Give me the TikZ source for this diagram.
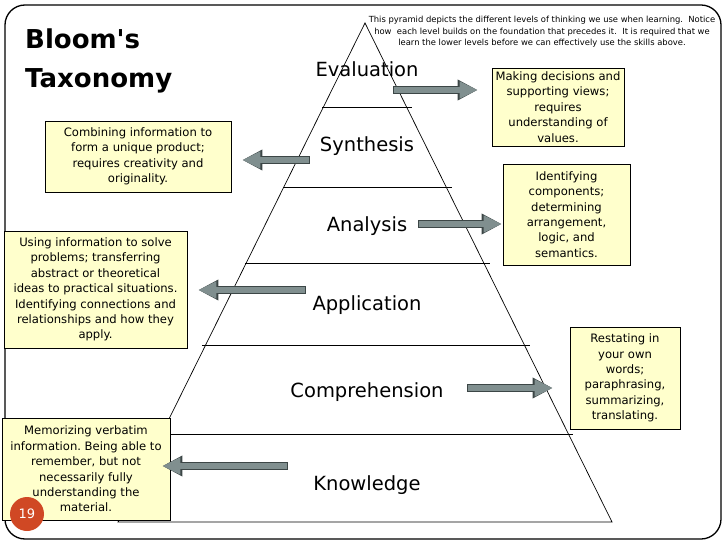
\documentclass[tikz,border=0pt]{standalone}
\usepackage{fontspec}
\setmainfont{DejaVu Sans}
\usetikzlibrary{arrows.meta}
\definecolor{bloomnote}{RGB}{255,255,204}
\definecolor{bloomarrow}{RGB}{128,143,143}
\definecolor{bloomedge}{RGB}{60,70,70}
\definecolor{bloomdot}{RGB}{208,72,36}
\frenchspacing

\begin{document}
\begin{tikzpicture}[
  x=1bp, y=-1bp,
  level/.style={font=\fontsize{19.5bp}{23bp}\selectfont, anchor=base},
  note/.style={draw=black, fill=bloomnote, align=center, line width=0.8bp,
               inner sep=1bp, font=\fontsize{11.6bp}{15.4bp}\selectfont},
  blockarr/.style={draw=bloomarrow, line width=5.5bp,
                   -{Triangle[length=18bp, width=16bp]},
                   preaction={draw=bloomedge, line width=7.3bp,
                              -{Triangle[length=20bp, width=19.5bp]},
                              shorten <=-0.8bp}},
  tierline/.style={line width=0.7bp},
]
  \useasboundingbox (0,0) rectangle (728,546);

  % Slide frame
  \draw[line width=1.3bp, rounded corners=20bp] (5,5) rectangle (721,539);

  % Heading and explanation
  \node[font=\fontsize{26bp}{39bp}\selectfont\bfseries, align=left,
        anchor=north west, inner sep=0pt] (title) at (25,29)
    {Bloom\textquotesingle s\\Taxonomy};
  \node[font=\fontsize{8.4bp}{11.5bp}\selectfont, align=center] (blurb) at (542,32)
    {This pyramid depicts the different levels of thinking we use when learning.\ \ Notice\\
     how\ \ each level builds on the foundation that precedes it.\ \ It is required that we\\
     learn the lower levels before we can effectively use the skills above.};

  % Pyramid
  \coordinate (apex) at (365,23);
  \coordinate (baseL) at (118,522);
  \coordinate (baseR) at (612,522);
  \draw[tierline] (baseL) -- (apex) -- (baseR) -- cycle;
  \foreach \yy/\xa/\xb in {107/322/412, 187/283/452, 263/245/490,
                           345/202/530, 434/162/573}
    \draw[tierline] (\xa,\yy) -- (\xb,\yy);

  % Levels
  \node[level] (eval) at (367,77) {Evaluation};
  \node[level] (syn) at (367,152) {Synthesis};
  \node[level] (ana) at (367,232) {Analysis};
  \node[level] (app) at (367,310) {Application};
  \node[level] (comp) at (367,397) {Comprehension};
  \node[level] (know) at (367,490) {Knowledge};

  % Descriptions
  \node[note, minimum width=132bp, minimum height=78bp] (evalbox) at (558,107)
    {Making decisions and\\supporting views;\\requires\\understanding of\\values.};
  \node[note, minimum width=186bp, minimum height=71bp] (synbox) at (138,156.5)
    {Combining information to\\form a unique product;\\requires creativity and\\originality.};
  \node[note, minimum width=127bp, minimum height=101bp] (anabox) at (566.5,214.5)
    {Identifying\\components;\\determining\\arrangement,\\logic, and\\semantics.};
  \node[note, minimum width=183bp, minimum height=117bp] (appbox) at (95.5,289.5)
    {Using information to solve\\problems; transferring\\abstract or theoretical\\ideas to practical situations.\\Identifying connections and\\relationships and how they\\apply.};
  \node[note, minimum width=110bp, minimum height=102bp] (compbox) at (625,378)
    {Restating in\\your own\\words;\\paraphrasing,\\summarizing,\\translating.};
  \node[note, minimum width=168bp, minimum height=102bp] (knowbox) at (86,469)
    {Memorizing verbatim\\information. Being able to\\remember, but not\\necessarily fully\\understanding the\\material.};

  % Arrows
  \coordinate (evalA) at (394,90);
  \coordinate (synA) at (309,160);
  \coordinate (anaA) at (419,224);
  \coordinate (appA) at (305,290);
  \coordinate (compA) at (468,388);
  \coordinate (knowA) at (287,466);
  \draw[blockarr, shorten >=14bp] (evalA) -- (evalA -| evalbox.west);
  \draw[blockarr, shorten >=11bp] (synA) -- (synA -| synbox.east);
  \draw[blockarr, shorten >=1bp] (anaA) -- (anaA -| anabox.west);
  \draw[blockarr, shorten >=11bp] (appA) -- (appA -| appbox.east);
  \draw[blockarr, shorten >=17bp] (compA) -- (compA -| compbox.west);
  \draw[blockarr, shorten >=-8bp] (knowA) -- (knowA -| knowbox.east);

  % Page number
  \node[circle, fill=bloomdot, minimum size=34bp, inner sep=0pt, text=white,
        font=\fontsize{13bp}{15bp}\selectfont] (pagenum) at (27,514) {19};
\end{tikzpicture}
\end{document}
